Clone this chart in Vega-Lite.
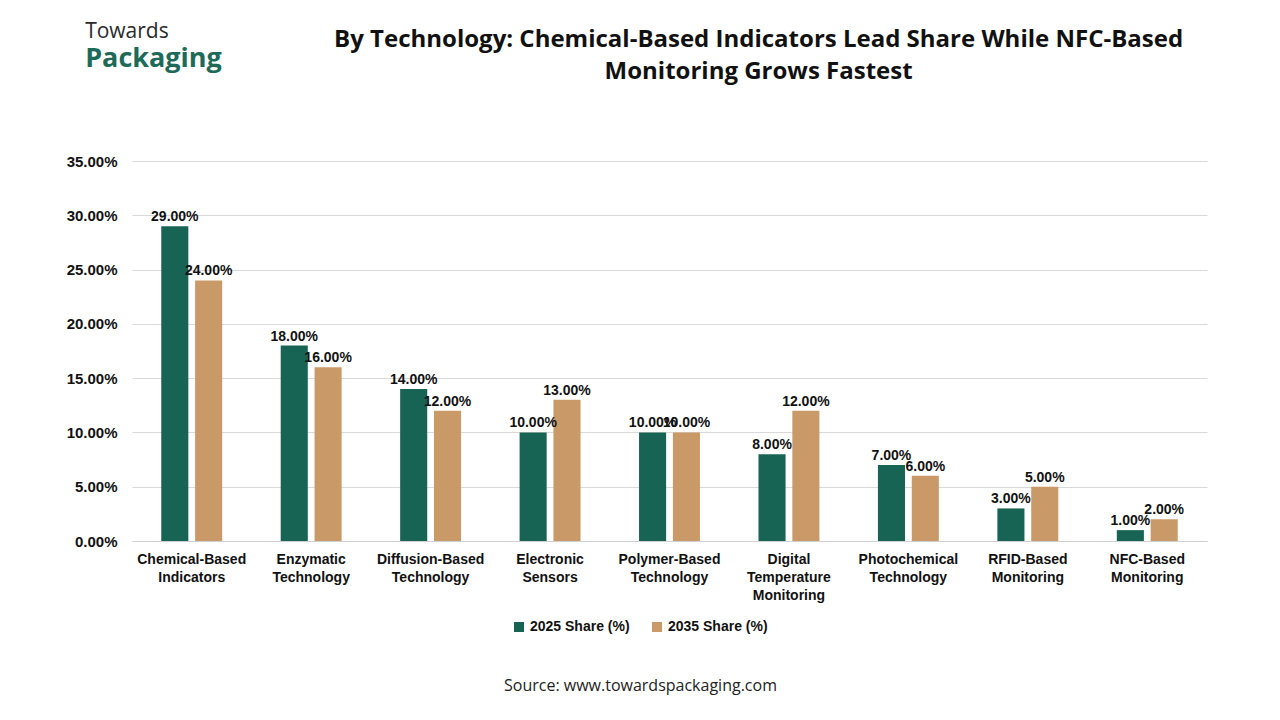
{
  "$schema": "https://vega.github.io/schema/vega-lite/v6.json",
  "background": "white",
  "padding": {"left": 66, "top": 21, "right": 10, "bottom": 10},
  "title": {
    "text": ["By Technology: Chemical-Based Indicators Lead Share While NFC-Based", "Monitoring Grows Fastest"],
    "anchor": "middle",
    "dx": 122,
    "dy": 63,
    "offset": 0,
    "font": "Open Sans",
    "fontSize": 24,
    "fontWeight": "bold",
    "color": "#111111",
    "lineHeight": 32
  },
  "vconcat": [
    {
      "title": {
        "text": "Towards",
        "subtitle": "Packaging",
        "anchor": "start",
        "dx": 19,
        "offset": 82,
        "font": "Open Sans",
        "fontSize": 21,
        "fontWeight": "normal",
        "color": "#2a2a2a",
        "subtitleFont": "Open Sans",
        "subtitleFontSize": 27,
        "subtitleFontWeight": "bold",
        "subtitleColor": "#1d6a58",
        "subtitlePadding": 4
      },
      "resolve": {"legend": {"color": "independent"}},
      "vconcat": [
        {
          "width": 1075,
          "height": 380,
          "title": {
            "text": "Source: www.towardspackaging.com",
            "orient": "bottom",
            "anchor": "middle",
            "dx": -29,
            "offset": 44,
            "font": "Open Sans",
            "fontSize": 16,
            "fontWeight": "normal",
            "color": "#222222"
          },
          "data": {
            "values": [
              {"technology": "Chemical-Based Indicators", "series": "2025 Share (%)", "share": 0.29},
              {"technology": "Chemical-Based Indicators", "series": "2035 Share (%)", "share": 0.24},
              {"technology": "Enzymatic Technology", "series": "2025 Share (%)", "share": 0.18},
              {"technology": "Enzymatic Technology", "series": "2035 Share (%)", "share": 0.16},
              {"technology": "Diffusion-Based Technology", "series": "2025 Share (%)", "share": 0.14},
              {"technology": "Diffusion-Based Technology", "series": "2035 Share (%)", "share": 0.12},
              {"technology": "Electronic Sensors", "series": "2025 Share (%)", "share": 0.10},
              {"technology": "Electronic Sensors", "series": "2035 Share (%)", "share": 0.13},
              {"technology": "Polymer-Based Technology", "series": "2025 Share (%)", "share": 0.10},
              {"technology": "Polymer-Based Technology", "series": "2035 Share (%)", "share": 0.10},
              {"technology": "Digital Temperature Monitoring", "series": "2025 Share (%)", "share": 0.08},
              {"technology": "Digital Temperature Monitoring", "series": "2035 Share (%)", "share": 0.12},
              {"technology": "Photochemical Technology", "series": "2025 Share (%)", "share": 0.07},
              {"technology": "Photochemical Technology", "series": "2035 Share (%)", "share": 0.06},
              {"technology": "RFID-Based Monitoring", "series": "2025 Share (%)", "share": 0.03},
              {"technology": "RFID-Based Monitoring", "series": "2035 Share (%)", "share": 0.05},
              {"technology": "NFC-Based Monitoring", "series": "2025 Share (%)", "share": 0.01},
              {"technology": "NFC-Based Monitoring", "series": "2035 Share (%)", "share": 0.02}
            ]
          },
          "encoding": {
            "x": {
              "field": "technology",
              "type": "nominal",
              "sort": null,
              "title": null,
              "scale": {"paddingInner": 0.49, "paddingOuter": 0.245},
              "axis": {
                "labelAngle": 0,
                "labelExpr": "split(datum.label, ' ')",
                "labelFont": "Liberation Sans",
                "labelFontSize": 14,
                "labelFontWeight": "bold",
                "labelColor": "#111111",
                "labelLineHeight": 18,
                "labelPadding": 11,
                "labelLimit": 200,
                "ticks": false,
                "domainColor": "#d0d0d0"
              }
            },
            "xOffset": {
              "field": "series",
              "type": "nominal",
              "scale": {"paddingInner": 0.2}
            },
            "y": {
              "field": "share",
              "type": "quantitative",
              "title": null,
              "scale": {"domain": [0, 0.35]},
              "axis": {
                "values": [0, 0.05, 0.1, 0.15, 0.2, 0.25, 0.3, 0.35],
                "format": ".2%",
                "labelFont": "Liberation Sans",
                "labelFontSize": 15,
                "labelFontWeight": "bold",
                "labelColor": "#111111",
                "labelPadding": 15,
                "ticks": false,
                "domain": false,
                "gridColor": "#d9d9d9"
              }
            }
          },
          "layer": [
            {
              "mark": {"type": "bar"},
              "encoding": {
                "color": {
                  "field": "series",
                  "type": "nominal",
                  "scale": {
                    "domain": ["2025 Share (%)", "2035 Share (%)"],
                    "range": ["#186454", "#c99a68"]
                  },
                  "legend": {
                    "orient": "none",
                    "legendX": 380,
                    "legendY": 459,
                    "direction": "horizontal",
                    "title": null,
                    "symbolType": "square",
                    "symbolSize": 100,
                    "symbolStrokeWidth": 0,
                    "labelFont": "Liberation Sans",
                    "labelFontSize": 14,
                    "labelFontWeight": "bold",
                    "labelColor": "#111111",
                    "labelOffset": 4,
                    "columnPadding": 20
                  }
                }
              }
            },
            {
              "mark": {
                "type": "text",
                "dy": -9,
                "font": "Liberation Sans",
                "fontSize": 14,
                "fontWeight": "bold",
                "color": "#111111"
              },
              "encoding": {
                "text": {"field": "share", "type": "quantitative", "format": ".2%"}
              }
            }
          ]
        }
      ]
    }
  ],
  "config": {
    "view": {"stroke": null},
    "concat": {"spacing": 0}
  }
}
